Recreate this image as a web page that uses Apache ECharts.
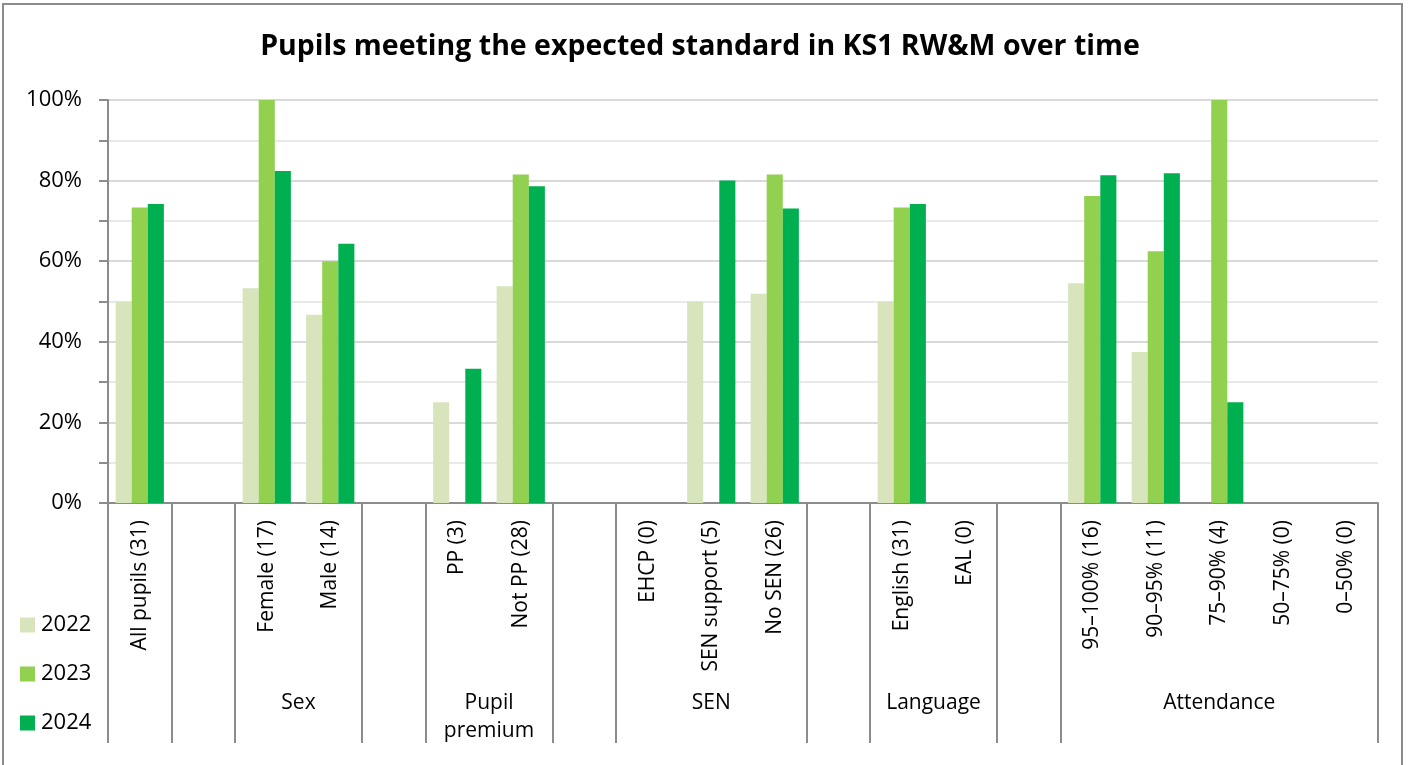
<!DOCTYPE html>
<html>
<head>
<meta charset="utf-8">
<script src="https://cdn.jsdelivr.net/npm/echarts@6/dist/echarts.min.js"></script>
<style>
  html, body { margin: 0; padding: 0; background: #fff; }
  #chart { width: 1410px; height: 765px; }
</style>
</head>
<body>
<div id="chart"></div>
<script>
// ---- Data ----
const titleText = 'Pupils meeting the expected standard in KS1 RW&M over time';
const categories = ['All pupils (31)', '', 'Female (17)', 'Male (14)', '', 'PP (3)', 'Not PP (28)', '',
  'EHCP (0)', 'SEN support (5)', 'No SEN (26)', '', 'English (31)', 'EAL (0)', '',
  '95–100% (16)', '90–95% (11)', '75–90% (4)', '50–75% (0)', '0–50% (0)'];
const seriesNames = ['2022', '2023', '2024'];
const values2022 = [50, null, 53.3, 46.7, null, 25, 53.8, null, null, 50, 51.9, null, 50, null, null, 54.5, 37.5, null, null, null];
const values2023 = [73.3, null, 100, 60, null, null, 81.5, null, null, null, 81.5, null, 73.3, null, null, 76.2, 62.5, 100, null, null];
const values2024 = [74.2, null, 82.4, 64.3, null, 33.3, 78.6, null, null, 80, 73.1, null, 74.2, null, null, 81.3, 81.8, 25, null, null];
// group spans in category-slot units [start, end)
const groupNames = ['All pupils', 'Sex', 'Pupil\npremium', 'SEN', 'Language', 'Attendance'];
const groupStarts = [0, 2, 5, 8, 12, 15];
const groupEnds = [1, 4, 7, 11, 14, 20];
const groupShowLabel = [false, true, true, true, true, true];
const yTickValues = [0, 20, 40, 60, 80, 100];

const colors = ['#D8E4BC', '#92D050', '#00B050'];
const FONT = '"Open Sans", "Noto Sans", sans-serif';

// boundaries where separator lines are drawn
const boundarySet = new Set();
groupStarts.forEach((s, i) => { boundarySet.add(s); boundarySet.add(groupEnds[i]); });

// group label axis: half-slot positions (2 * center)
const halfCats = [];
for (let j = 0; j <= categories.length * 2; j++) halfCats.push('');
groupNames.forEach((g, i) => { if (groupShowLabel[i]) halfCats[groupStarts[i] + groupEnds[i]] = g; });

const chart = echarts.init(document.getElementById('chart'), null, { renderer: 'canvas' });
const seriesValues = [values2022, values2023, values2024];

chart.setOption({
  animation: false,
  backgroundColor: '#fff',
  textStyle: { fontFamily: FONT },
  title: {
    text: titleText,
    left: 695, top: 27, textAlign: 'center',
    textStyle: { fontFamily: FONT, fontSize: 28.5, fontWeight: 'bold', color: '#000' }
  },
  graphic: [{
    type: 'rect', shape: { x: 3, y: 4, width: 1399, height: 800 },
    style: { fill: 'none', stroke: '#8c8c8c', lineWidth: 2 }, silent: true, z: -1
  }],
  legend: {
    orient: 'vertical', left: 15, top: 609,
    itemWidth: 15, itemHeight: 15, itemGap: 27,
    icon: 'rect',
    data: seriesNames,
    textStyle: { fontFamily: FONT, fontSize: 22, color: '#000', lineHeight: 22, padding: [0, 0, 0, 1] }
  },
  grid: { left: 108, right: 32, top: 100, bottom: 262, containLabel: false, outerBoundsMode: 'none' },
  xAxis: [{
    type: 'category',
    position: 'bottom',
    data: categories,
    axisLine: { show: true, lineStyle: { color: '#8c8c8c', width: 2 } },
    axisTick: {
      show: true, length: 240, alignWithLabel: false,
      interval: (idx) => boundarySet.has(idx),
      lineStyle: { color: '#8c8c8c', width: 2 }
    },
    axisLabel: {
      interval: 0, rotate: 90, margin: 17,
      fontFamily: FONT, fontSize: 21, color: '#000'
    },
    splitLine: { show: false }
  }, {
    type: 'category',
    position: 'bottom',
    boundaryGap: false,
    data: halfCats,
    axisLine: { show: false },
    axisTick: { show: false },
    axisLabel: {
      interval: 0, margin: 186, verticalAlign: 'top',
      fontFamily: FONT, fontSize: 21, lineHeight: 28, color: '#000', align: 'center'
    },
    splitLine: { show: false }
  }],
  yAxis: {
    type: 'value', min: 0, max: 100, interval: 20,
    axisLine: { show: true, lineStyle: { color: '#8c8c8c', width: 2 } },
    axisTick: { show: true, length: 9, lineStyle: { color: '#8c8c8c', width: 2 } },
    minorTick: { show: true, splitNumber: 2, length: 9, lineStyle: { color: '#8c8c8c', width: 2 } },
    splitLine: { show: true, lineStyle: { color: '#d9d9d9', width: 2 } },
    minorSplitLine: { show: true, lineStyle: { color: '#e9e9e9', width: 2 } },
    axisLabel: {
      margin: 26, fontFamily: FONT, fontSize: 22, color: '#000',
      formatter: (v) => yTickValues.includes(v) ? v + '%' : ''
    }
  },
  series: seriesNames.map((name, i) => ({
    name: name,
    type: 'bar',
    xAxisIndex: 0,
    data: seriesValues[i],
    barGap: '0%',
    barCategoryGap: '24%',
    itemStyle: { color: colors[i] }
  }))
});
</script>
</body>
</html>
